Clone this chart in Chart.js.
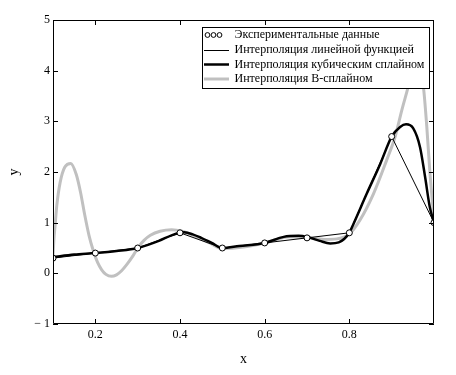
<!DOCTYPE html>
<html>
<head>
<meta charset="utf-8">
<script src="https://cdn.jsdelivr.net/npm/chart.js@4.4.1/dist/chart.umd.min.js"></script>
<style>
  html, body { margin: 0; padding: 0; background: #fff; }
  #wrap { width: 456px; height: 375px; position: relative; }
</style>
</head>
<body>
<div id="wrap"><canvas id="c" width="456" height="375"></canvas></div>
<script>
// ---- data ----
const dataX = [0.1, 0.2, 0.3, 0.4, 0.5, 0.6, 0.7, 0.8, 0.9, 1.0];
const dataY = [0.3, 0.4, 0.5, 0.8, 0.5, 0.6, 0.7, 0.8, 2.7, 1.0];

const cubicX = [0.10, 0.15, 0.20, 0.25, 0.30, 0.35, 0.38, 0.40, 0.41, 0.43, 0.45, 0.475, 0.50, 0.54, 0.60, 0.645, 0.68, 0.70, 0.73, 0.755, 0.775, 0.80, 0.81, 0.841, 0.873, 0.90, 0.92, 0.934, 0.951, 0.967, 0.979, 0.99, 1.00];
const cubicY = [0.32, 0.37, 0.40, 0.44, 0.50, 0.64, 0.75, 0.80, 0.81, 0.77, 0.70, 0.60, 0.50, 0.54, 0.60, 0.72, 0.74, 0.72, 0.64, 0.59, 0.61, 0.80, 0.98, 1.57, 2.16, 2.70, 2.89, 2.94, 2.86, 2.49, 1.90, 1.31, 1.00];

const bsplX = [0.100, 0.102, 0.105, 0.109, 0.117, 0.128, 0.142, 0.155, 0.165, 0.175, 0.185, 0.195, 0.205, 0.215, 0.225, 0.238, 0.250, 0.262, 0.275, 0.290, 0.302, 0.315, 0.330, 0.353, 0.380, 0.405, 0.440, 0.470, 0.500, 0.550, 0.600, 0.660, 0.700, 0.740, 0.770, 0.800, 0.825, 0.857, 0.888, 0.908, 0.924, 0.939, 0.950, 0.958, 0.966, 0.975, 0.983, 0.990, 0.998, 1.000];
const bsplY = [0.33, 0.65, 0.95, 1.34, 1.80, 2.10, 2.17, 1.95, 1.60, 1.15, 0.75, 0.45, 0.22, 0.07, -0.02, -0.06, -0.03, 0.05, 0.18, 0.36, 0.52, 0.65, 0.75, 0.83, 0.86, 0.83, 0.72, 0.60, 0.49, 0.52, 0.60, 0.72, 0.70, 0.67, 0.68, 0.78, 1.05, 1.57, 2.23, 2.69, 3.22, 3.68, 4.05, 4.15, 4.05, 3.68, 2.89, 2.03, 1.24, 1.05];

const xTicks = [0.2, 0.4, 0.6, 0.8];
const yTicks = [-1, 0, 1, 2, 3, 4, 5];

const legendLabels = ['Экспериментальные данные', 'Интерполяция линейной функцией', 'Интерполяция кубическим сплайном', 'Интерполяция B-сплайном'];

const pts = (xs, ys) => xs.map((x, i) => ({ x: x, y: ys[i] }));
const FONT = '"Liberation Serif", "Times New Roman", serif';

const framePlugin = {
  id: 'frame',
  afterDraw(chart) {
    const ctx = chart.ctx;
    const a = chart.chartArea;
    const xs = chart.scales.x, ys = chart.scales.y;
    ctx.save();
    ctx.strokeStyle = '#000';
    ctx.lineWidth = 1;
    ctx.beginPath();
    ctx.rect(Math.round(a.left) + 0.5, Math.round(a.top) + 0.5, Math.round(a.right - a.left) - 1, Math.round(a.bottom - a.top) - 1);
    ctx.stroke();
    const T = 5;
    ctx.beginPath();
    xTicks.forEach(v => {
      const px = Math.round(xs.getPixelForValue(v)) + 0.5;
      ctx.moveTo(px, a.bottom); ctx.lineTo(px, a.bottom - T);
      ctx.moveTo(px, a.top); ctx.lineTo(px, a.top + T);
    });
    yTicks.forEach(v => {
      const py = Math.round(ys.getPixelForValue(v)) + 0.5;
      ctx.moveTo(a.left, py); ctx.lineTo(a.left + T, py);
      ctx.moveTo(a.right, py); ctx.lineTo(a.right - T, py);
    });
    ctx.stroke();

    // legend box
    const bx = 202, by = 27, bw = 227, bh = 61;
    ctx.fillStyle = '#fff';
    ctx.fillRect(bx, by, bw, bh);
    ctx.strokeRect(bx + 0.5, by + 0.5, bw, bh);
    const rows = [35, 49.5, 64.5, 79];
    ctx.font = '12px ' + FONT;
    ctx.fillStyle = '#000';
    ctx.textBaseline = 'middle';
    ctx.textAlign = 'left';
    legendLabels.forEach((t, i) => ctx.fillText(t, 234.5, rows[i]));
    // symbols
    ctx.lineWidth = 1;
    [207.5, 213.5, 219.5].forEach(cx => {
      ctx.beginPath(); ctx.arc(cx, rows[0], 2.4, 0, Math.PI * 2); ctx.stroke();
    });
    const seg = (y, w, c) => {
      ctx.beginPath(); ctx.strokeStyle = c; ctx.lineWidth = w;
      ctx.moveTo(204, y); ctx.lineTo(229, y); ctx.stroke();
    };
    seg(Math.round(rows[1]) + 0.5, 1, '#000');
    seg(rows[2], 2.5, '#000');
    seg(rows[3], 3, '#c0c0c0');
    ctx.restore();
  }
};

new Chart(document.getElementById('c'), {
  type: 'scatter',
  data: {
    datasets: [
      { label: legendLabels[0], data: pts(dataX, dataY), showLine: false, pointRadius: 3, pointBorderWidth: 1, pointBorderColor: '#000', pointBackgroundColor: '#fff', order: 0 },
      { label: legendLabels[1], data: pts(dataX, dataY), showLine: true, borderColor: '#000', borderWidth: 1, pointRadius: 0, tension: 0, order: 1 },
      { label: legendLabels[2], data: pts(cubicX, cubicY), showLine: true, borderColor: '#000', borderWidth: 2.5, pointRadius: 0, cubicInterpolationMode: 'monotone', order: 2 },
      { label: legendLabels[3], data: pts(bsplX, bsplY), showLine: true, borderColor: '#c0c0c0', borderWidth: 3, pointRadius: 0, cubicInterpolationMode: 'monotone', order: 3 }
    ]
  },
  options: {
    responsive: false,
    animation: false,
    devicePixelRatio: 1,
    layout: { padding: { top: 20, right: 22, left: 0, bottom: 0 } },
    plugins: { legend: { display: false }, tooltip: { enabled: false } },
    scales: {
      x: {
        type: 'linear', min: 0.1, max: 1.0,
        afterBuildTicks: s => { s.ticks = xTicks.map(v => ({ value: v })); },
        afterFit: s => { s.height = 51; },
        grid: { display: false, drawTicks: false },
        border: { display: false },
        ticks: { padding: 4, color: '#000', font: { family: FONT, size: 12 }, callback: v => v.toFixed(1) },
        title: { display: true, text: 'x', color: '#000', font: { family: FONT, size: 14 }, padding: { top: 0, bottom: 7 } }
      },
      y: {
        type: 'linear', min: -1, max: 5,
        afterBuildTicks: s => { s.ticks = yTicks.map(v => ({ value: v })); },
        afterFit: s => { s.width = 53; },
        grid: { display: false, drawTicks: false },
        border: { display: false },
        ticks: { padding: 3, color: '#000', font: { family: FONT, size: 12 }, callback: v => v === -1 ? '− 1' : String(v) },
        title: { display: true, text: 'y', color: '#000', font: { family: FONT, size: 14 }, padding: { top: 6, bottom: 0 } }
      }
    }
  },
  plugins: [framePlugin]
});
</script>
</body>
</html>
